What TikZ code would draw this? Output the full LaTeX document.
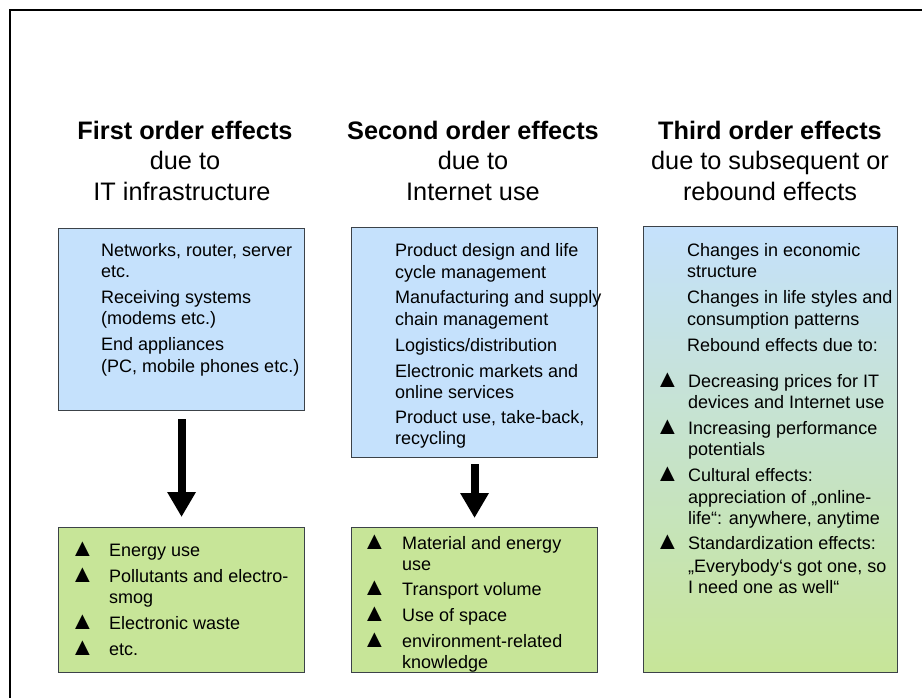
\documentclass[tikz,border=0pt]{standalone}
\usepackage{fontspec}
\setmainfont{Liberation Sans}
\usetikzlibrary{arrows.meta}
\definecolor{boxblue}{RGB}{197,225,252}
\definecolor{boxgreen}{RGB}{199,229,152}
\definecolor{boxline}{RGB}{60,66,72}
\tikzset{
  txt/.style={anchor=base west,inner sep=0pt,font=\fontsize{18}{21}\selectfont},
  bul/.style={anchor=base west,inner sep=0pt,font=\fontsize{25}{21}\selectfont},
  hdb/.style={anchor=base,inner sep=0pt,font=\fontsize{25.3}{30}\selectfont\bfseries},
  hdr/.style={anchor=base,inner sep=0pt,font=\fontsize{25.3}{30}\selectfont},
  panel/.style={draw=boxline,line width=1.1pt,anchor=north west,inner sep=0pt},
  bluebox/.style={panel,fill=boxblue},
  greenbox/.style={panel,fill=boxgreen},
  bigarrow/.style={line width=8pt,-{Triangle[width=27pt,length=25pt]}}
}
\newcommand\tl[4]{\node[txt] (#1) at (#2,#3) {#4};}
\newcommand\bl[3]{\node[bul] (#1) at (#2,#3) {▲};}
\begin{document}
\begin{tikzpicture}[x=1pt,y=-1pt]
\useasboundingbox (0,0) rectangle (922,698);
\fill[white] (0,0) rectangle (922,698);
\draw[line width=2pt] (10,698) -- (10,10) -- (922,10);

% headers
\node[hdb] (h1a) at (185,140) {First order effects};
\node[hdr] (h1b) at (185,170) {due to};
\node[hdr] (h1c) at (182,201) {IT infrastructure};
\node[hdb] (h2a) at (473,140) {Second order effects};
\node[hdr] (h2b) at (473,170) {due to};
\node[hdr] (h2c) at (473,201) {Internet use};
\node[hdb] (h3a) at (770,140) {Third order effects};
\node[hdr] (h3b) at (770,170) {due to subsequent or};
\node[hdr] (h3c) at (770,201) {rebound effects};

% boxes
\node[bluebox,minimum width=246pt,minimum height=182pt] (b1) at (58,228) {};
\node[bluebox,minimum width=246pt,minimum height=230pt] (b2) at (351,227) {};
\node[panel,minimum width=254pt,minimum height=446pt,top color=boxblue,bottom color=boxgreen] (b3) at (643,226) {};
\node[greenbox,minimum width=246pt,minimum height=145pt] (g1) at (58,527) {};
\node[greenbox,minimum width=246pt,minimum height=145pt] (g2) at (351,527) {};

% arrows
\draw[bigarrow,shorten <=8pt,shorten >=10pt] (b1.south) -- (b1.south |- g1.north);
\draw[bigarrow,shorten <=6pt,shorten >=9pt] (b2.south) -- (b2.south |- g2.north);

% box 1 text
\tl{a1}{101}{256}{Networks, router, server}
\tl{a2}{101}{277}{etc.}
\tl{a3}{101}{303}{Receiving systems}
\tl{a4}{101}{324}{(modems etc.)}
\tl{a5}{101}{350}{End appliances}
\tl{a6}{101}{372}{(PC, mobile phones etc.)}

% box 2 text
\tl{c1}{395}{256}{Product design and life}
\tl{c2}{395}{278}{cycle management}
\tl{c3}{395}{303}{Manufacturing and supply}
\tl{c4}{395}{325}{chain management}
\tl{c5}{395}{351}{Logistics/distribution}
\tl{c6}{395}{377}{Electronic markets and}
\tl{c7}{395}{398}{online services}
\tl{c8}{395}{423}{Product use, take-back,}
\tl{c9}{395}{444}{recycling}

% box 3 text
\tl{d1}{687}{256}{Changes in economic}
\tl{d2}{687}{277}{structure}
\tl{d3}{687}{303}{Changes in life styles and}
\tl{d4}{687}{325}{consumption patterns}
\tl{d5}{687}{351}{Rebound effects due to:}
\bl{e1}{655}{387}
\tl{d6}{688}{387}{Decreasing prices for IT}
\tl{d7}{688}{408}{devices and Internet use}
\bl{e2}{655}{434}
\tl{d8}{688}{434}{Increasing performance}
\tl{d9}{688}{455}{potentials}
\bl{e3}{655}{481}
\tl{d10}{688}{481}{Cultural effects:}
\tl{d11}{688}{503}{appreciation of „online-}
\tl{d12}{688}{524}{life“: anywhere, anytime}
\bl{e4}{655}{549}
\tl{d13}{688}{549}{Standardization effects:}
\tl{d14}{688}{572}{„Everybody‘s got one, so}
\tl{d15}{688}{593}{I need one as well“}

% green box 1
\bl{f1}{70}{556}
\tl{g1a}{109}{556}{Energy use}
\bl{f2}{70}{582}
\tl{g1b}{109}{582}{Pollutants and electro-}
\tl{g1c}{109}{603}{smog}
\bl{f3}{70}{629}
\tl{g1d}{109}{629}{Electronic waste}
\bl{f4}{70}{655}
\tl{g1e}{109}{655}{etc.}

% green box 2
\bl{k1}{362}{549}
\tl{g2a}{402}{549}{Material and energy}
\tl{g2b}{402}{570}{use}
\bl{k2}{362}{595}
\tl{g2c}{402}{595}{Transport volume}
\bl{k3}{362}{621}
\tl{g2d}{402}{621}{Use of space}
\bl{k4}{362}{647}
\tl{g2e}{402}{647}{environment-related}
\tl{g2f}{402}{668}{knowledge}
\end{tikzpicture}
\end{document}
